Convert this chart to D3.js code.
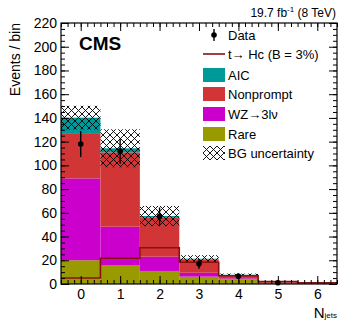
<!DOCTYPE html>
<html>
<head>
<meta charset="utf-8">
<script src="https://cdn.jsdelivr.net/npm/d3@7"></script>
<style>
  body { margin: 0; background: #fff; }
  svg { font-family: "Liberation Sans", Arial, sans-serif; }
</style>
</head>
<body>
<script>
// bins of N_jets
var bins = [0, 1, 2, 3, 4, 5, 6];
// background components, bottom of the stack first
var rare = [20, 16, 11, 6.2, 4, 1.2, 0.5];
var wz = [69, 32.3, 12, 3.3, 0.8, 0.2, 0.1];
var nonprompt = [37.5, 62.7, 33.2, 11.3, 2.8, 0.6, 0.3];
var aic = [13.7, 3.4, 1.1, 0.5, 0.2, 0.05, 0];
var bgUnc = [10, 16, 8.5, 3, 1, 0.3, 0.2];
var data = [118, 112, 57, 17, 6.5, 1, 0];
var signal = [5, 21.7, 30.6, 18.3, 7, 2, 1];
var yTicks = [0, 20, 40, 60, 80, 100, 120, 140, 160, 180, 200, 220];
var xTicks = [0, 1, 2, 3, 4, 5, 6];

var components = [
    {name: "Rare", values: rare, color: "#999900"},
    {name: "WZ\u21923l\u03bd", values: wz, color: "#cc00cc"},
    {name: "Nonprompt", values: nonprompt, color: "#d23535"},
    {name: "AIC", values: aic, color: "#009999"}
];

var W = 339, H = 320;
var margin = {top: 23, right: 2, bottom: 36, left: 61},
    width = W - margin.left - margin.right,
    height = H - margin.top - margin.bottom;

var svg = d3.select("body").append("svg")
    .attr("width", W)
    .attr("height", H);

// cross hatch used for the background uncertainty
var defs = svg.append("defs");
var pat = defs.append("pattern")
    .attr("id", "hatch")
    .attr("patternUnits", "userSpaceOnUse")
    .attr("width", 7)
    .attr("height", 7);
pat.append("path")
    .attr("d", "M0,0L7,7M7,0L0,7M-1,6L1,8M6,-1L8,1M-1,1L1,-1M6,8L8,6")
    .attr("stroke", "#000")
    .attr("stroke-width", 0.9);

var g = svg.append("g")
    .attr("transform", "translate(" + margin.left + "," + margin.top + ")");

var x = d3.scaleLinear().domain([-0.5, 6.5]).range([0, width]);
var y = d3.scaleLinear().domain([0, 220]).range([height, 0]);

// stacked backgrounds
var rows = bins.map(function(b, i) {
    var r = {bin: b};
    components.forEach(function(c) { r[c.name] = c.values[i]; });
    return r;
});
var stack = d3.stack().keys(components.map(function(c) { return c.name; }));
var layers = stack(rows);

g.selectAll("g.layer")
    .data(layers)
    .enter().append("g")
    .attr("class", "layer")
    .attr("fill", function(d, i) { return components[i].color; })
    .selectAll("rect")
    .data(function(d) { return d; })
    .enter().append("rect")
    .attr("x", function(d) { return x(d.data.bin - 0.5); })
    .attr("width", x(1) - x(0))
    .attr("y", function(d) { return y(d[1]); })
    .attr("height", function(d) { return y(d[0]) - y(d[1]); });

// uncertainty band
var totals = bins.map(function(b, i) {
    return d3.sum(components, function(c) { return c.values[i]; });
});
g.selectAll("rect.unc")
    .data(bins)
    .enter().append("rect")
    .attr("class", "unc")
    .attr("fill", "url(#hatch)")
    .attr("x", function(d) { return x(d - 0.5); })
    .attr("width", x(1) - x(0))
    .attr("y", function(d, i) { return y(totals[i] + bgUnc[i]); })
    .attr("height", function(d, i) {
        return y(Math.max(totals[i] - bgUnc[i], 0)) - y(totals[i] + bgUnc[i]);
    });

// signal step line
var stepPts = [];
bins.forEach(function(b, i) {
    stepPts.push([b - 0.5, signal[i]]);
    stepPts.push([b + 0.5, signal[i]]);
});
g.append("path")
    .datum(stepPts)
    .attr("fill", "none")
    .attr("stroke", "#8a1010")
    .attr("stroke-width", 1.6)
    .attr("d", d3.line()
        .x(function(d) { return x(d[0]); })
        .y(function(d) { return y(d[1]); }));

// data points
var pts = bins.map(function(b, i) { return {bin: b, n: data[i]}; })
    .filter(function(d) { return d.n > 0; });
g.selectAll("line.err")
    .data(pts)
    .enter().append("line")
    .attr("class", "err")
    .attr("stroke", "#000")
    .attr("stroke-width", 1.4)
    .attr("x1", function(d) { return x(d.bin); })
    .attr("x2", function(d) { return x(d.bin); })
    .attr("y1", function(d) { return y(d.n + Math.sqrt(d.n)); })
    .attr("y2", function(d) { return y(Math.max(d.n - Math.sqrt(d.n), 0)); });
g.selectAll("circle.pt")
    .data(pts)
    .enter().append("circle")
    .attr("class", "pt")
    .attr("cx", function(d) { return x(d.bin); })
    .attr("cy", function(d) { return y(d.n); })
    .attr("r", 2.8)
    .attr("fill", "#000");

// axes with ticks inside the frame
var yMinor = d3.range(0, 221, 5);
var xMinor = d3.range(-3, 40).map(function(k) { return k / 6; })
    .filter(function(v) { return v >= -0.5 && v <= 6.5; });

function styleAxis(sel) {
    sel.select(".domain").remove();
    sel.selectAll("line").attr("stroke", "#000");
    sel.selectAll("text").attr("font-size", "14px")
        .attr("font-family", "Liberation Sans, Arial, sans-serif")
        .attr("fill", "#000");
}

g.append("g").call(d3.axisLeft(y).tickValues(yMinor).tickSize(-4)
    .tickFormat("")).call(styleAxis);
g.append("g").call(d3.axisLeft(y).tickValues(yTicks).tickSize(-8)
    .tickPadding(4)).call(styleAxis);
g.append("g").attr("transform", "translate(" + width + ",0)")
    .call(d3.axisRight(y).tickValues(yMinor).tickSize(-4).tickFormat(""))
    .call(styleAxis);
g.append("g").attr("transform", "translate(" + width + ",0)")
    .call(d3.axisRight(y).tickValues(yTicks).tickSize(-8).tickFormat(""))
    .call(styleAxis);

g.append("g").attr("transform", "translate(0," + height + ")")
    .call(d3.axisBottom(x).tickValues(xMinor).tickSize(-4).tickFormat(""))
    .call(styleAxis);
g.append("g").attr("transform", "translate(0," + height + ")")
    .call(d3.axisBottom(x).tickValues(xTicks).tickSize(-8).tickPadding(5)
        .tickFormat(d3.format("d")))
    .call(styleAxis);
g.append("g")
    .call(d3.axisTop(x).tickValues(xMinor).tickSize(-4).tickFormat(""))
    .call(styleAxis);
g.append("g")
    .call(d3.axisTop(x).tickValues(xTicks).tickSize(-8).tickFormat(""))
    .call(styleAxis);

g.append("rect")
    .attr("width", width)
    .attr("height", height)
    .attr("fill", "none")
    .attr("stroke", "#000")
    .attr("stroke-width", 1.2);

// titles
svg.append("text")
    .attr("transform", "translate(20," + margin.top + ") rotate(-90)")
    .attr("text-anchor", "end")
    .attr("font-size", "14px")
    .text("Events / bin");

var xt = svg.append("text")
    .attr("x", W - 2)
    .attr("y", 317.5)
    .attr("text-anchor", "end")
    .attr("font-size", "15px")
    .text("N");
xt.append("tspan")
    .attr("font-size", "8px")
    .attr("dy", 0.5)
    .text("jets");

var lumi = svg.append("text")
    .attr("x", W - 3)
    .attr("y", 17)
    .attr("text-anchor", "end")
    .attr("font-size", "12px")
    .text("19.7 fb");
lumi.append("tspan").attr("font-size", "8px").attr("dy", -5).text("-1");
lumi.append("tspan").attr("dy", 5).text(" (8 TeV)");

svg.append("text")
    .attr("x", 79)
    .attr("y", 50)
    .attr("font-size", "19px")
    .attr("font-weight", "bold")
    .text("CMS");

// legend
var legX = 203, legW = 22, textX = 228;
var legend = [
    {label: "Data", type: "data", y: 35},
    {label: "t\u2192 Hc (B = 3%)", type: "line", y: 54},
    {label: "AIC", type: "box", color: components[3].color, y: 75},
    {label: "Nonprompt", type: "box", color: components[2].color, y: 94},
    {label: "WZ\u21923l\u03bd", type: "box", color: components[1].color, y: 114},
    {label: "Rare", type: "box", color: components[0].color, y: 134},
    {label: "BG uncertainty", type: "hatch", y: 153}
];
var leg = svg.selectAll("g.leg")
    .data(legend)
    .enter().append("g")
    .attr("class", "leg")
    .attr("transform", function(d) { return "translate(0," + d.y + ")"; });
leg.append("text")
    .attr("x", textX)
    .attr("y", 0)
    .attr("dy", "0.35em")
    .attr("font-size", "13px")
    .text(function(d) { return d.label; });
leg.filter(function(d) { return d.type === "box" || d.type === "hatch"; })
    .append("rect")
    .attr("x", legX)
    .attr("y", -7)
    .attr("width", legW)
    .attr("height", 14)
    .attr("fill", function(d) {
        return d.type === "hatch" ? "url(#hatch)" : d.color;
    });
leg.filter(function(d) { return d.type === "line"; })
    .append("line")
    .attr("x1", legX).attr("x2", legX + legW)
    .attr("stroke", "#8a1010")
    .attr("stroke-width", 1.6);
var ld = leg.filter(function(d) { return d.type === "data"; });
ld.append("line")
    .attr("x1", legX + legW / 2).attr("x2", legX + legW / 2)
    .attr("y1", -6).attr("y2", 6)
    .attr("stroke", "#000").attr("stroke-width", 1.4);
ld.append("circle")
    .attr("cx", legX + legW / 2)
    .attr("r", 2.8);
</script>
</body>
</html>
